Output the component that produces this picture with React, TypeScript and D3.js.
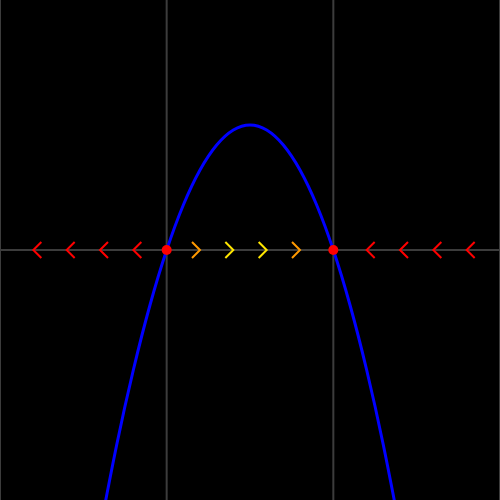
import * as d3 from "d3";

// curve samples (x, y)
const curveX = [-0.4, -0.3, -0.2, -0.1, 0, 0.1, 0.2, 0.3, 0.4, 0.5, 0.6, 0.7, 0.8, 0.9, 1, 1.1, 1.2, 1.3, 1.4];
const curveY = [-0.56, -0.39, -0.24, -0.11, 0, 0.09, 0.16, 0.21, 0.24, 0.25, 0.24, 0.21, 0.16, 0.09, 0, -0.11, -0.24, -0.39, -0.56];

// fixed points
const fixedX = [0, 1];

// flow arrows on the line
const arrowX = [-0.8, -0.6, -0.4, -0.2, 0.2, 0.4, 0.6, 0.8, 1.2, 1.4, 1.6, 1.8];
const arrowDir = [-1, -1, -1, -1, 1, 1, 1, 1, -1, -1, -1, -1];
const arrowColor = [
  "#ff0000", "#ff0000", "#ff0000", "#ff0000",
  "#ff9900", "#ffe600", "#ffe600", "#ff9900",
  "#ff0000", "#ff0000", "#ff0000", "#ff0000",
];

const gridX = [-1, 0, 1, 2];
const gridY = [0];

const width = 500;
const height = 500;

const App = () => {
  const x = d3.scaleLinear().domain([-1, 2]).range([0, width]);
  const y = d3.scaleLinear().domain([-0.5, 0.5]).range([height, 0]);

  const line = d3
    .line<number>()
    .x((d) => x(d))
    .y((_, i) => y(curveY[i]))
    .curve(d3.curveNatural);

  return (
    <div style={{ position: "fixed", left: 0, top: 0 }}>
      <svg width={width} height={height} style={{ display: "block", background: "#000" }}>
        <defs>
          <clipPath id="plot">
            <rect x={0} y={0} width={width} height={height} />
          </clipPath>
        </defs>
        <rect x={0} y={0} width={width} height={height} fill="#000" />
        {gridX.map((g, i) => (
          <line key={"gx" + i} x1={x(g)} x2={x(g)} y1={0} y2={height} stroke="#3c3c3c" strokeWidth={2} />
        ))}
        {gridY.map((g, i) => (
          <line key={"gy" + i} x1={0} x2={width} y1={y(g)} y2={y(g)} stroke="#3c3c3c" strokeWidth={2} />
        ))}
        <g clipPath="url(#plot)">
          <path d={line(curveX) || ""} fill="none" stroke="#0000ff" strokeWidth={3} />
        </g>
        {arrowX.map((a, i) => {
          const tx = x(a);
          const ty = y(0);
          const back = tx - arrowDir[i] * 8;
          return (
            <path
              key={"a" + i}
              d={`M${back},${ty - 8}L${tx},${ty}L${back},${ty + 8}`}
              fill="none"
              stroke={arrowColor[i]}
              strokeWidth={2}
            />
          );
        })}
        {fixedX.map((f, i) => (
          <circle key={"f" + i} cx={x(f)} cy={y(0)} r={5} fill="#ff0000" />
        ))}
      </svg>
    </div>
  );
};

export default App;
